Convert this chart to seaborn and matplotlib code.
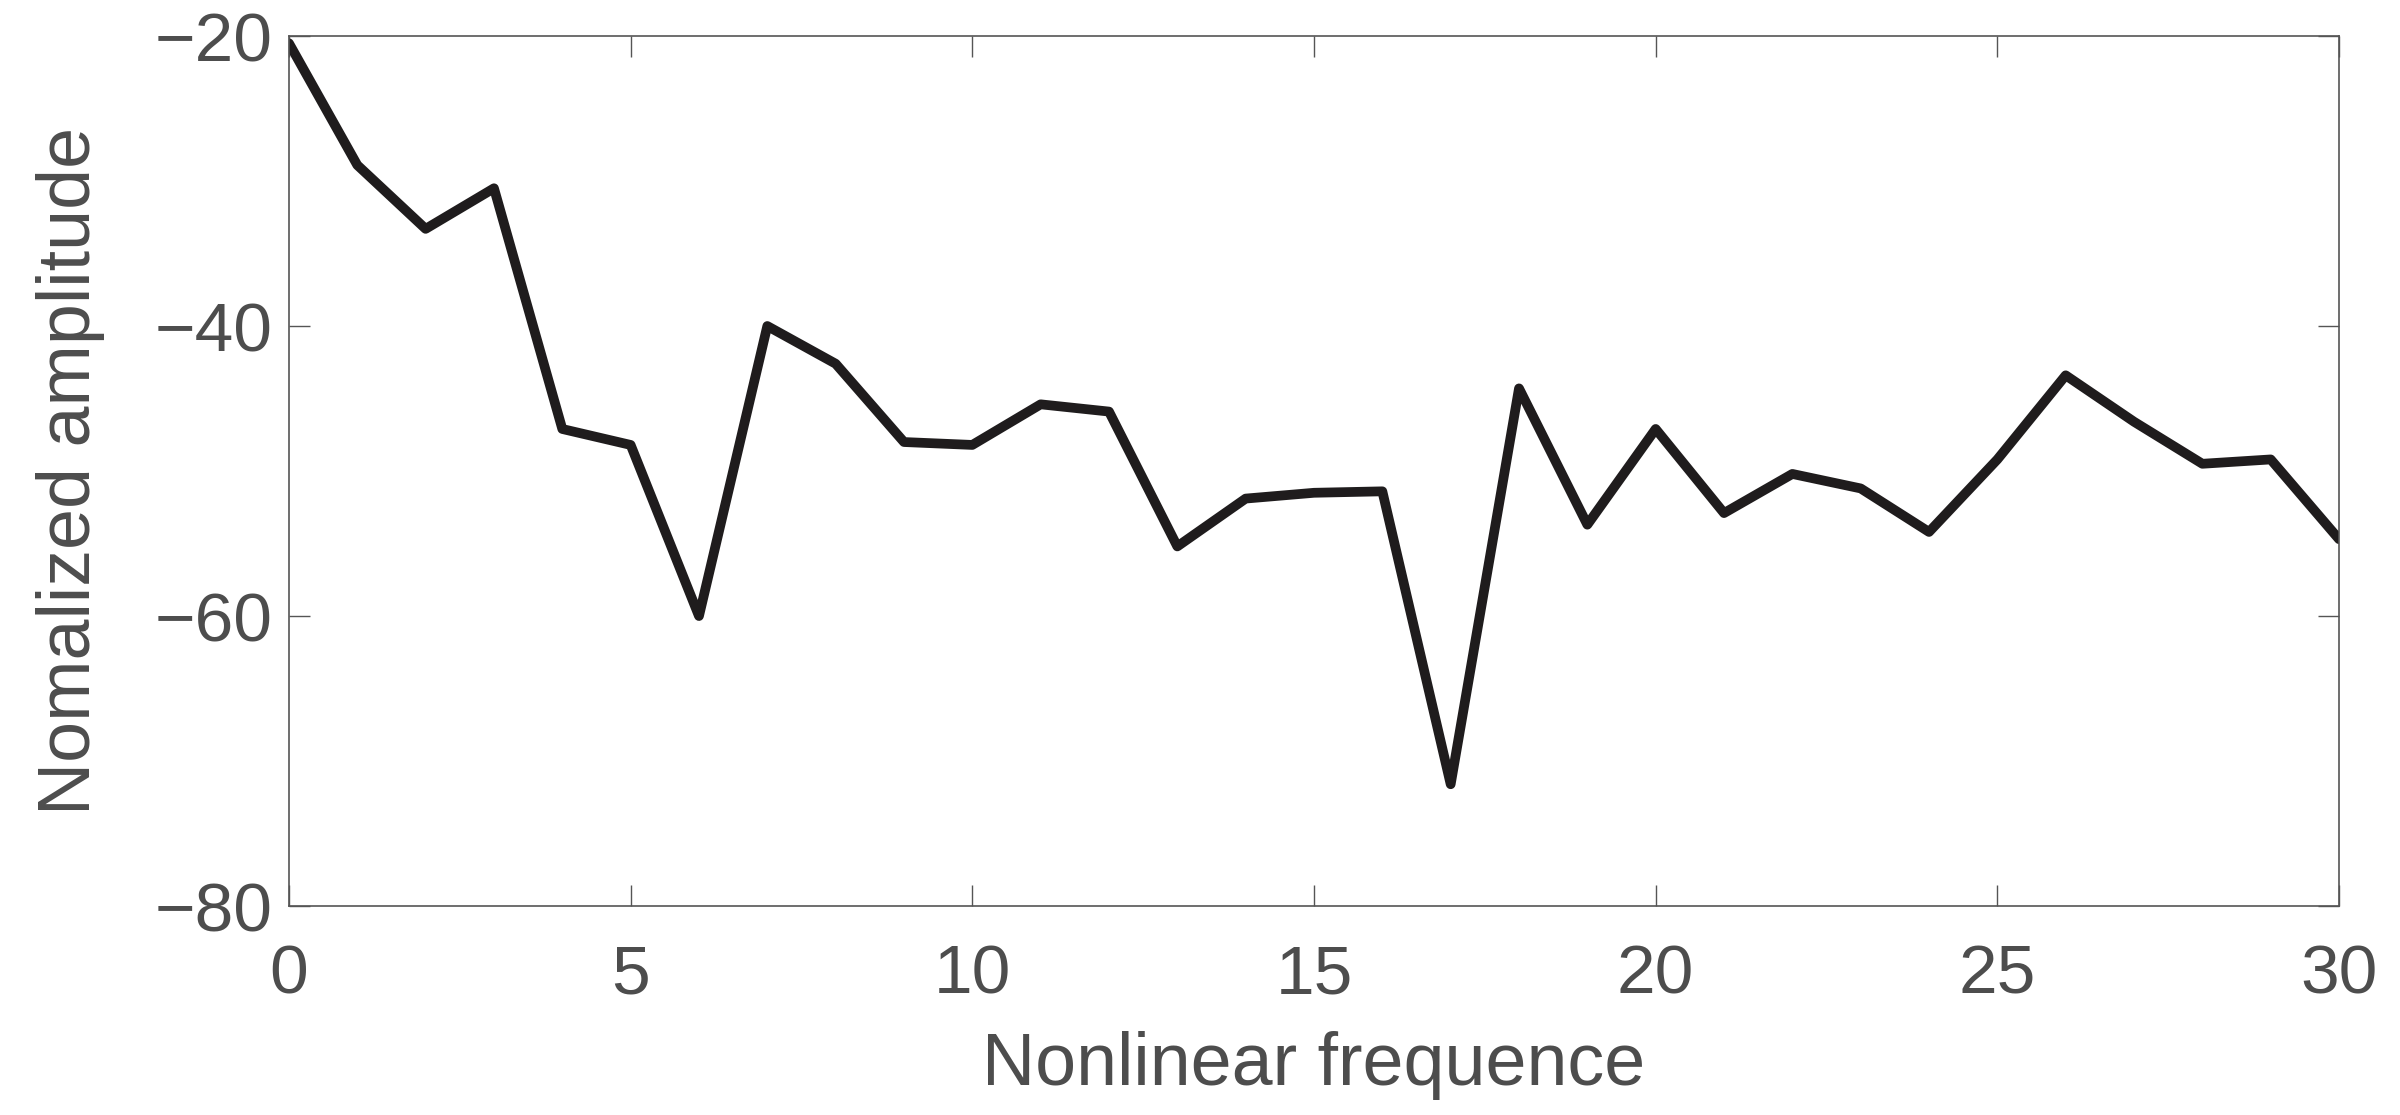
"""
Courbe : amplitude normalisée en fonction de la fréquence non linéaire.
"""

import numpy as np
import pandas as pd
import seaborn as sns
import matplotlib.pyplot as plt

frequence = list(range(0, 31))
amplitude = [
    -20.5, -28.9, -33.3, -30.5, -47.1, -48.2, -60.0, -40.0, -42.6, -48.0,
    -48.2, -45.4, -45.9, -55.2, -51.9, -51.5, -51.4, -71.6, -44.3, -53.7,
    -47.1, -52.9, -50.2, -51.2, -54.2, -49.2, -43.4, -46.6, -49.5, -49.2,
    -54.7,
]
x_ticks = [0, 5, 10, 15, 20, 25, 30]
y_ticks = [-20, -40, -60, -80]

sns.set_theme(style="white")
plt.rcParams["font.family"] = ["Liberation Sans", "DejaVu Sans"]

df = pd.DataFrame({"freq": frequence, "amp": amplitude})

fig = plt.figure(figsize=(24, 11.15), dpi=100)
ax = fig.add_axes([0.1204, 0.1874, 0.8542, 0.7803])

sns.lineplot(data=df, x="freq", y="amp", ax=ax, color="#1f1c1d", linewidth=7)

text_color = "#4d4d4d"
ax.set_xlim(0, 30)
ax.set_ylim(-80, -20)
ax.set_xticks(x_ticks)
ax.set_yticks(y_ticks)
ax.tick_params(axis="both", direction="in", length=15, width=1, color="#555555",
               labelsize=50, labelcolor=text_color, top=True, right=True,
               bottom=True, left=True)
ax.tick_params(axis="x", pad=27)
ax.tick_params(axis="y", pad=12)
for spine in ax.spines.values():
    spine.set_color("#555555")
    spine.set_linewidth(1.2)

ax.set_xlabel("Nonlinear frequence", fontsize=53, color=text_color)
ax.set_ylabel("Nomalized amplitude", fontsize=53, color=text_color)
ax.xaxis.set_label_coords(0.5, -0.1437)
ax.yaxis.set_label_coords(-0.0898, 0.5)

fig.savefig("out.png", dpi=100, facecolor="white")
